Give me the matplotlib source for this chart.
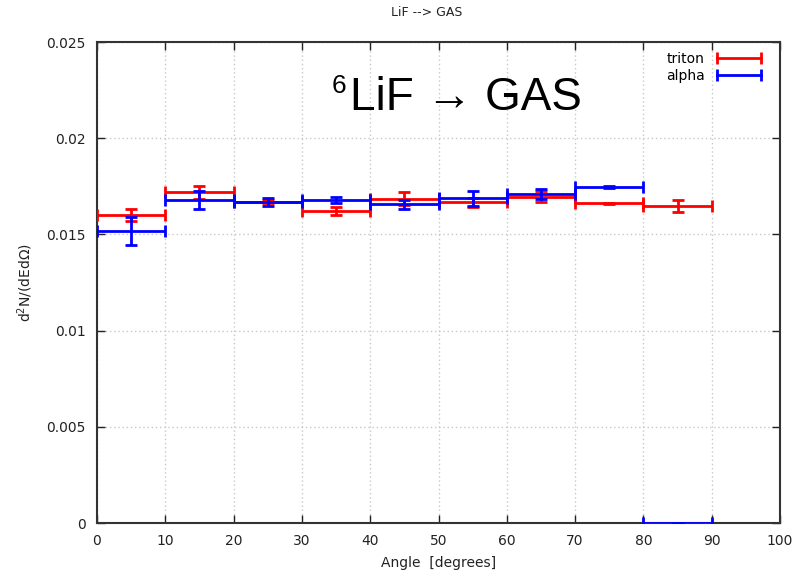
import matplotlib
matplotlib.use("Agg")
import matplotlib.pyplot as plt
from matplotlib.lines import Line2D
import numpy as np

angle_centers = [5, 15, 25, 35, 45, 55, 65, 75, 85]
bin_half_width = [5, 5, 5, 5, 5, 5, 5, 5, 5]
triton_vals = [0.0160, 0.01719, 0.01670, 0.01622, 0.01686, 0.01667, 0.01696, 0.01662, 0.01649]
triton_errs = [0.00030, 0.00034, 0.00008, 0.00023, 0.00033, 0.00022, 0.00030, 0.00003, 0.00032]
alpha_vals = [0.01518, 0.01680, 0.01670, 0.01680, 0.01656, 0.01688, 0.01708, 0.01748, 0.0]
alpha_errs = [0.00072, 0.00046, 0.00020, 0.00017, 0.00022, 0.00040, 0.00026, 0.00005, 0.0]
xticks = [0, 10, 20, 30, 40, 50, 60, 70, 80, 90, 100]
yticks = [0, 0.005, 0.01, 0.015, 0.02, 0.025]
ytick_labels = ["0", "0.005", "0.01", "0.015", "0.02", "0.025"]

plt.rcParams['font.family'] = ['DejaVu Sans']
fig = plt.figure(figsize=(7.97, 5.81), dpi=100)
ax = fig.add_axes([0.1217, 0.0998, 0.8570, 0.8279])

ax.errorbar(angle_centers, triton_vals, xerr=bin_half_width, yerr=triton_errs,
            fmt='none', ecolor='#ff0000', elinewidth=2, capsize=4, capthick=2, zorder=3)
ax.errorbar(angle_centers, alpha_vals, xerr=bin_half_width, yerr=alpha_errs,
            fmt='none', ecolor='#0000ff', elinewidth=2, capsize=4, capthick=2, zorder=4)

ax.set_xlim(0, 100)
ax.set_ylim(0, 0.025)
ax.set_xticks(xticks)
ax.set_yticks(yticks)
ax.set_yticklabels(ytick_labels)
ax.grid(True, color='#c8c8c8', linestyle=(0, (1, 2)), linewidth=1)
ax.tick_params(direction='in', top=True, right=True, length=6, width=1,
               labelsize=10, colors='#222222', pad=8)
for s in ax.spines.values():
    s.set_linewidth(1.5)
    s.set_color('#333333')

ax.set_xlabel("Angle  [degrees]", fontsize=10, color='#222222', labelpad=6)
ax.set_ylabel("d$^2$N/(dEdΩ)", fontsize=10, color='#222222', labelpad=8)
fig.text(0.535, 0.978, "LiF --> GAS", ha='center', va='center', fontsize=9,
         family='Liberation Sans Narrow', color='#222222')

ax.text(34.4, 0.02235, "6", fontsize=19, family='Liberation Sans',
        ha='left', va='baseline', color='black')
ax.text(37.1, 0.02147, "LiF → GAS", fontsize=33, family=['Liberation Sans', 'DejaVu Sans'],
        ha='left', va='baseline', color='black')

handles = [Line2D([0], [0], color='#ff0000', lw=2, marker='|', markersize=8, mew=2),
           Line2D([0], [0], color='#0000ff', lw=2, marker='|', markersize=8, mew=2)]
ax.legend(handles, ['triton', 'alpha'], loc='upper right', frameon=False,
          markerfirst=False, numpoints=2, fontsize=10, handlelength=3.8,
          borderaxespad=0.3, labelspacing=0.2, handletextpad=0.6,
          bbox_to_anchor=(0.993, 1.0))

fig.savefig("out.png", dpi=100)
